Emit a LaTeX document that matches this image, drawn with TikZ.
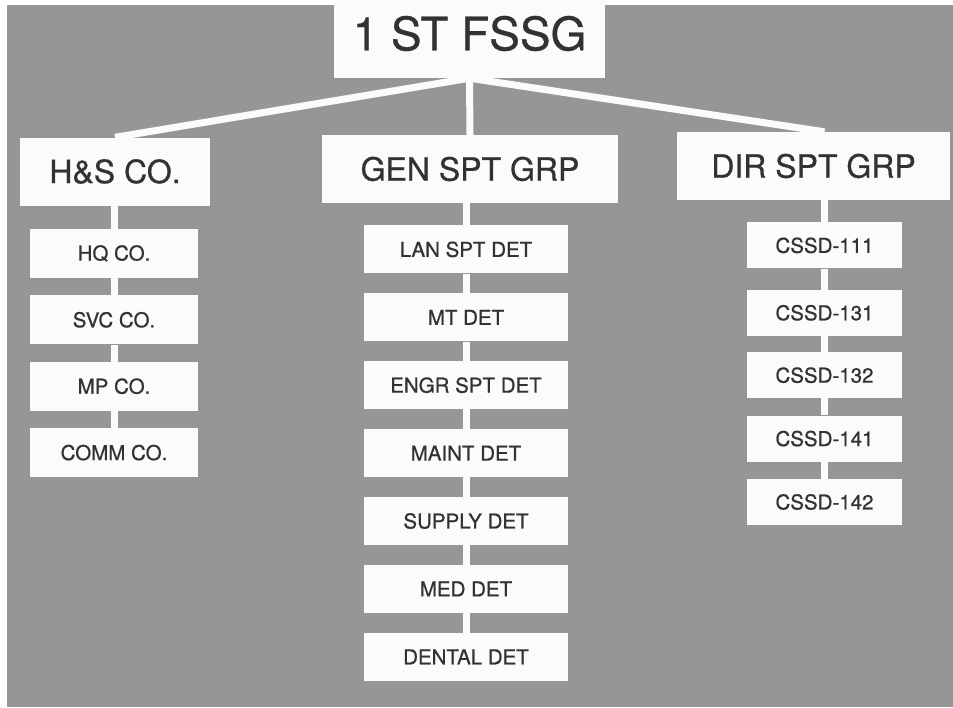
\documentclass[tikz,border=0pt]{standalone}
\usepackage{fontspec}
\setmainfont{TeX Gyre Heros}[FakeBold=0.7]
\usetikzlibrary{positioning}

\definecolor{boardgray}{RGB}{150,150,150}
\definecolor{inkgray}{RGB}{50,50,50}
\definecolor{cardwhite}{RGB}{251,251,251}

\begin{document}
\begin{tikzpicture}[
    x=1pt, y=-1pt,
    card/.style={
        fill=cardwhite,
        text=inkgray,
        inner sep=0pt,
        align=center
    },
    chief/.style={
        card,
        minimum width=271pt,
        minimum height=89pt,
        font=\fontsize{46}{50}\selectfont
    },
    head/.style={
        card,
        minimum height=68pt,
        font=\fontsize{32}{36}\selectfont
    },
    unit/.style={
        card,
        minimum height=48pt,
        font=\fontsize{20.5}{24}\selectfont
    },
    hsunit/.style={unit, minimum width=168pt, minimum height=49pt},
    genunit/.style={unit, minimum width=204pt},
    dirunit/.style={unit, minimum width=155pt, minimum height=46pt},
    link/.style={draw=cardwhite, line width=7pt}
]

% board
\useasboundingbox (0,0) rectangle (953,707);
\fill[white] (0,0) rectangle (953,707);
\fill[boardgray] (7,5) rectangle (953,707);

\node[chief] (fssg) at (469.5,33.5) {1 ST FSSG};

\node[head, minimum width=190pt] (hs) at (115,171.5) {H\&S CO.};
\node[head, minimum width=296pt] (gen) at (470,169) {GEN SPT GRP};
\node[head, minimum width=273pt] (dir) at (813.5,166) {DIR SPT GRP};

% H&S column
\node[hsunit, below=23pt of hs, xshift=-1pt] (hq) {HQ CO.};
\node[hsunit, below=17pt of hq] (svc) {SVC CO.};
\node[hsunit, below=17pt of svc] (mp) {MP CO.};
\node[hsunit, below=17pt of mp] (comm) {COMM CO.};

% general support column
\node[genunit, below=22pt of gen, xshift=-4pt] (lan) {LAN SPT DET};
\node[genunit, below=19.5pt of lan] (mt) {MT DET};
\node[genunit, below=19.5pt of mt] (engr) {ENGR SPT DET};
\node[genunit, below=19.5pt of engr] (maint) {MAINT DET};
\node[genunit, below=19.5pt of maint] (supply) {SUPPLY DET};
\node[genunit, below=19.5pt of supply] (med) {MED DET};
\node[genunit, below=19.5pt of med] (dental) {DENTAL DET};

% direct support column
\node[dirunit, below=22pt of dir, xshift=11pt] (c111) {CSSD-111};
\node[dirunit, below=21pt of c111] (c131) {CSSD-131};
\node[dirunit, below=16pt of c131] (c132) {CSSD-132};
\node[dirunit, below=17pt of c132] (c141) {CSSD-141};
\node[dirunit, below=17pt of c141] (c142) {CSSD-142};

\draw[link] (fssg.south) -- (hs.north);
\draw[link] (fssg.south) -- (gen.north);
\draw[link] (fssg.south) -- (dir.north -| c111.north);

\foreach \a/\b in {hs/hq, hq/svc, svc/mp, mp/comm,
    gen/lan, lan/mt, mt/engr, engr/maint, maint/supply, supply/med, med/dental,
    dir/c111, c111/c131, c131/c132, c132/c141, c141/c142}
    \draw[link] (\b.north |- \a.south) -- (\b.north);

\end{tikzpicture}
\end{document}
